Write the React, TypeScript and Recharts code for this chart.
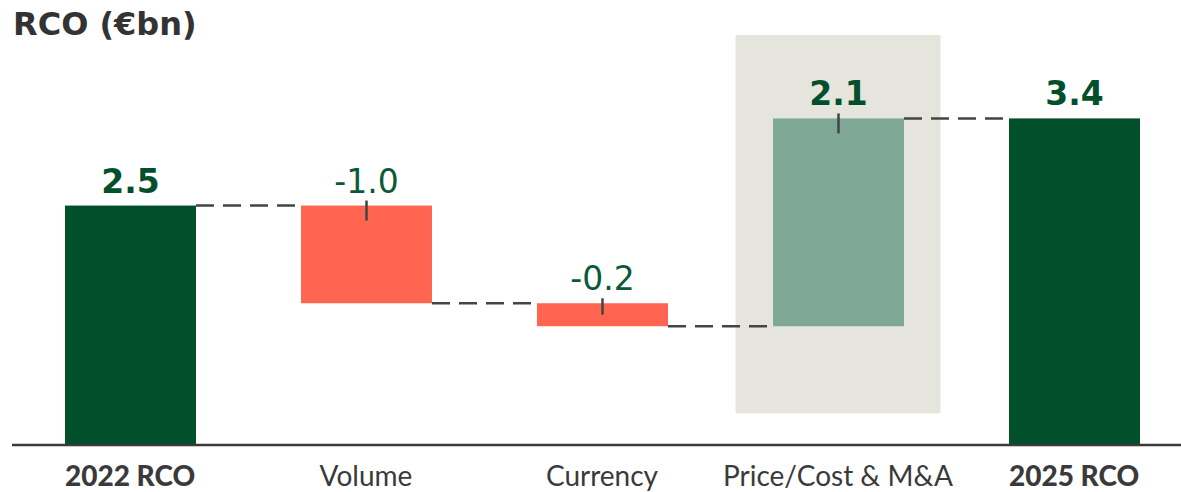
import { Bar, BarChart, LabelList, ReferenceArea, XAxis, YAxis } from "recharts";

const categories = ["2022 RCO", "Volume", "Currency", "Price/Cost & M&A", "2025 RCO"];
const deltas = [2.5, -1.02, -0.24, 2.17, 3.41];
const valueLabels = ["2.5", "-1.0", "-0.2", "2.1", "3.4"];
const isTotal = [true, false, false, false, true];
const boldLabel = [true, false, false, true, true];
const highlightCategory = "Price/Cost & M&A";
const highlightRange = [0.33, 4.28];

const CHART_W = 1192;
const CHART_H = 492;
const MARGIN = { top: 14, right: 0, left: 12, bottom: 0 };
const BAR_SIZE = 131;
const BAND = (CHART_W - MARGIN.left - MARGIN.right) / categories.length;

const DARK = "#024f2c";
const CORAL = "#ff6550";
const LIGHT = "#80a897";
const BOX = "#e5e5de";
const INK = "#3a3a3a";
const FONT = "Lato, 'Open Sans', sans-serif";
const NUM_FONT = "'DejaVu Sans', sans-serif";

let running = 0;
const rows = categories.map((name, i) => {
  const d = deltas[i];
  if (isTotal[i]) {
    running = d;
    return { name, base: 0, size: d, label: valueLabels[i], neg: false, total: true };
  }
  const start = running;
  running = start + d;
  return {
    name,
    base: Math.min(start, running),
    size: Math.abs(d),
    label: valueLabels[i],
    neg: d < 0,
    total: false,
  };
});

function colorFor(i: number) {
  if (isTotal[i]) return DARK;
  return deltas[i] < 0 ? CORAL : LIGHT;
}

function StepBar(props: any) {
  const { x, y, width, height, index } = props;
  const row = rows[index];
  const level = row.neg ? y + height : y;
  const tickBelow = Math.min(15, height / 2);
  return (
    <g>
      <rect x={x} y={y} width={width} height={height} fill={colorFor(index)} />
      {!row.total && (
        <line x1={x + width / 2} x2={x + width / 2} y1={y - 5} y2={y + tickBelow} stroke="#444" strokeWidth={2.5} />
      )}
      {index < rows.length - 1 && (
        <line
          x1={x + width}
          x2={x + width + (BAND - width)}
          y1={level}
          y2={level}
          stroke="#444"
          strokeWidth={2.5}
          strokeDasharray="18 9"
        />
      )}
    </g>
  );
}

function ValueLabel(props: any) {
  const { x, y, width, value, index } = props;
  const bold = boldLabel[index];
  return (
    <text
      x={x + width / 2}
      y={y - 13}
      textAnchor="middle"
      fill={bold ? DARK : "#0b5a36"}
      fontFamily={NUM_FONT}
      fontSize={33}
      fontWeight={bold ? 700 : 400}
    >
      {value}
    </text>
  );
}

function CategoryTick(props: any) {
  const { x, y, payload } = props;
  const i = categories.indexOf(payload.value);
  return (
    <text
      x={x}
      y={y + 33}
      textAnchor="middle"
      fill={INK}
      fontFamily={FONT}
      fontSize={28}
      fontWeight={isTotal[i] ? 900 : 400}
    >
      {payload.value}
    </text>
  );
}

function HighlightBox(props: any) {
  const { x, y, width, height } = props;
  return <rect x={x + 15.5} y={y} width={width - 31} height={height} fill={BOX} />;
}

export default function App() {
  return (
    <div style={{ position: "absolute", left: 0, top: 0, width: 1181, height: CHART_H, overflow: "hidden", background: "#fff" }}>
      <div
        style={{
          position: "absolute",
          left: 13,
          top: 8,
          fontFamily: NUM_FONT,
          fontWeight: 700,
          fontSize: 32,
          lineHeight: "32px",
          color: "#333",
          zIndex: 2,
        }}
      >
        RCO (€bn)
      </div>
      <BarChart width={CHART_W} height={CHART_H} data={rows} margin={MARGIN} barCategoryGap={0}>
        <ReferenceArea
          x1={highlightCategory}
          x2={highlightCategory}
          y1={highlightRange[0]}
          y2={highlightRange[1]}
          shape={HighlightBox}
        />
        <XAxis
          dataKey="name"
          axisLine={{ stroke: INK, strokeWidth: 2.5 }}
          tickLine={false}
          interval={0}
          height={47}
          tick={CategoryTick}
        />
        <YAxis hide domain={[0, 4.5]} />
        <Bar dataKey="base" stackId="w" fill="transparent" barSize={BAR_SIZE} isAnimationActive={false} />
        <Bar dataKey="size" stackId="w" barSize={BAR_SIZE} shape={StepBar} isAnimationActive={false}>
          <LabelList dataKey="label" content={ValueLabel} />
        </Bar>
      </BarChart>
    </div>
  );
}
